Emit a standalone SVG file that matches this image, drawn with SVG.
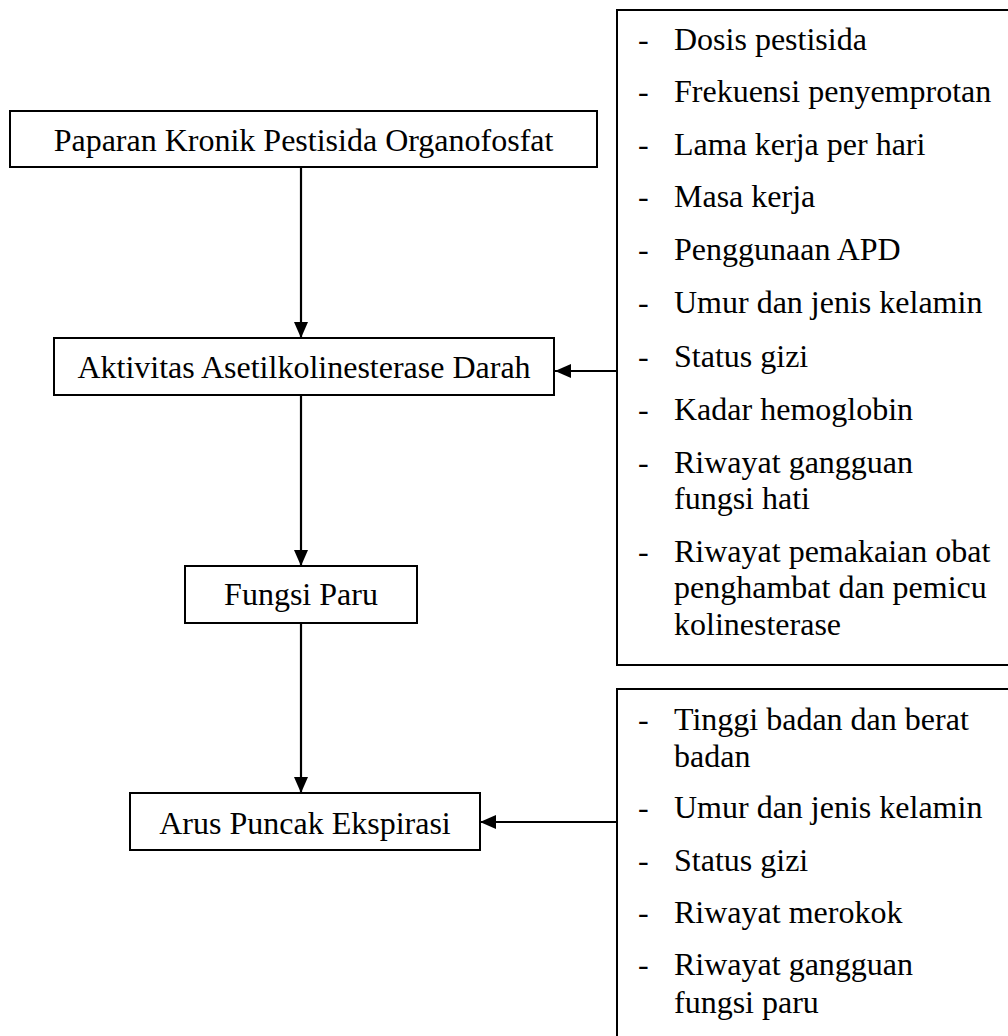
<svg xmlns="http://www.w3.org/2000/svg" width="1008" height="1036" viewBox="0 0 1008 1036">
<defs>
<style>
.box{fill:#fff;stroke:#000;stroke-width:2}
.t{font-family:"Liberation Serif","Times New Roman",serif;font-size:32px;fill:#000}
.c{text-anchor:middle}
.ln{stroke:#000;stroke-width:2.2;fill:none}
</style>
<marker id="ah" markerUnits="userSpaceOnUse" markerWidth="16" markerHeight="14" refX="16" refY="7" orient="auto" viewBox="0 0 16 14">
<path d="M0,0 L16,7 L0,14 z" fill="#000"/>
</marker>
</defs>
<rect width="1008" height="1036" fill="#fff"/>

<g id="connectors">
<line class="ln" x1="301" y1="167" x2="301" y2="338" marker-end="url(#ah)"/>
<line class="ln" x1="301" y1="395" x2="301" y2="566" marker-end="url(#ah)"/>
<line class="ln" x1="301" y1="623" x2="301" y2="793" marker-end="url(#ah)"/>
<line class="ln" x1="617" y1="371" x2="555" y2="371" marker-end="url(#ah)"/>
<line class="ln" x1="617" y1="822" x2="480" y2="822" marker-end="url(#ah)"/>
</g>

<g id="node-paparan">
<rect class="box" x="10" y="111" width="587" height="56"/>
<text class="t c" x="303.5" y="151">Paparan Kronik Pestisida Organofosfat</text>
</g>

<g id="node-aktivitas">
<rect class="box" x="54" y="338" width="500" height="57"/>
<text class="t c" x="304" y="378">Aktivitas Asetilkolinesterase Darah</text>
</g>

<g id="node-fungsi">
<rect class="box" x="185" y="566" width="232" height="57"/>
<text class="t c" x="301" y="605">Fungsi Paru</text>
</g>

<g id="node-arus">
<rect class="box" x="130" y="793" width="350" height="57"/>
<text class="t c" x="305" y="834">Arus Puncak Ekspirasi</text>
</g>

<g id="node-faktor1">
<rect class="box" x="617" y="10" width="420" height="655"/>
<g class="t">
<text x="638" y="50">-</text><text x="674" y="50">Dosis pestisida</text>
<text x="638" y="102">-</text><text x="674" y="102">Frekuensi penyemprotan</text>
<text x="638" y="155">-</text><text x="674" y="155">Lama kerja per hari</text>
<text x="638" y="207">-</text><text x="674" y="207">Masa kerja</text>
<text x="638" y="260">-</text><text x="674" y="260">Penggunaan APD</text>
<text x="638" y="313">-</text><text x="674" y="313">Umur dan jenis kelamin</text>
<text x="638" y="367">-</text><text x="674" y="367">Status gizi</text>
<text x="638" y="420">-</text><text x="674" y="420">Kadar hemoglobin</text>
<text x="638" y="473">-</text><text x="674" y="473">Riwayat gangguan</text>
<text x="674" y="509">fungsi hati</text>
<text x="638" y="562">-</text><text x="674" y="562">Riwayat pemakaian obat</text>
<text x="674" y="598">penghambat dan pemicu</text>
<text x="674" y="635">kolinesterase</text>
</g>
</g>

<g id="node-faktor2">
<rect class="box" x="617" y="689" width="420" height="400"/>
<g class="t">
<text x="638" y="730">-</text><text x="674" y="730">Tinggi badan dan berat</text>
<text x="674" y="767">badan</text>
<text x="638" y="818">-</text><text x="674" y="818">Umur dan jenis kelamin</text>
<text x="638" y="871">-</text><text x="674" y="871">Status gizi</text>
<text x="638" y="923">-</text><text x="674" y="923">Riwayat merokok</text>
<text x="638" y="975">-</text><text x="674" y="975">Riwayat gangguan</text>
<text x="674" y="1013">fungsi paru</text>
</g>
</g>
</svg>
